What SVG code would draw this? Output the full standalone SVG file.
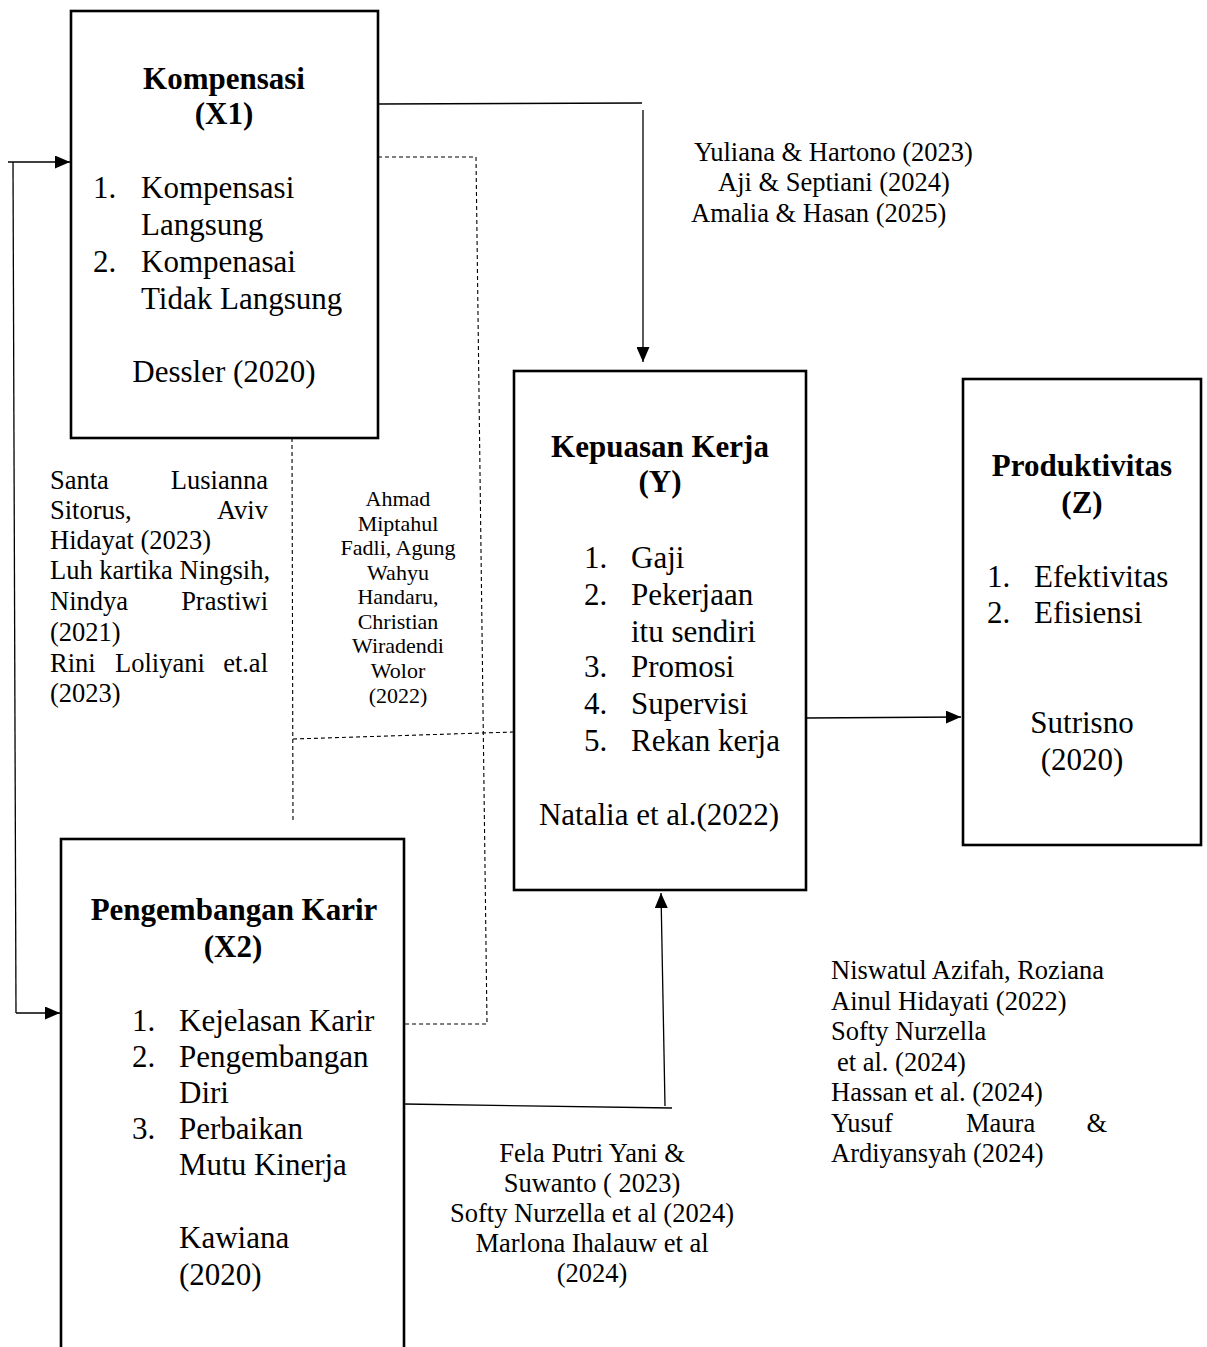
<svg xmlns="http://www.w3.org/2000/svg" width="1207" height="1347" viewBox="0 0 1207 1347">
<style>
  text { font-family: "Liberation Serif", "Times New Roman", serif; fill: #000; }
  .t { font-weight: bold; font-size: 31px; text-anchor: middle; }
  .l { font-size: 31px; }
  .lc { font-size: 31px; text-anchor: middle; }
  .c12 { font-size: 26.5px; }
  .c12m { font-size: 26.5px; text-anchor: middle; }
  .c12e { font-size: 26.5px; text-anchor: end; }
  .c10 { font-size: 22px; text-anchor: middle; }
  .box { fill: #fff; stroke: #000; stroke-width: 2.6; }
  .ln { fill: none; stroke: #000; stroke-width: 1.3; }
  .dash { fill: none; stroke: #000; stroke-width: 1.1; stroke-dasharray: 4 3; }
</style>
<defs>
  <marker id="arr" markerUnits="userSpaceOnUse" markerWidth="15" markerHeight="13" refX="15" refY="6.5" orient="auto">
    <path d="M0,0 L15,6.5 L0,13 Z" fill="#000"/>
  </marker>
</defs>
<rect width="1207" height="1347" fill="#fff"/>

<g id="connectors">
  <path class="ln" d="M8,162 H70" marker-end="url(#arr)"/>
  <path class="ln" d="M13,162 L16,1013"/>
  <path class="ln" d="M16,1013 H60" marker-end="url(#arr)"/>
  <path class="ln" d="M378,104 L642,103"/>
  <path class="ln" d="M643,110 V362" marker-end="url(#arr)"/>
  <path class="ln" d="M806,718 L961,717" marker-end="url(#arr)"/>
  <path class="ln" d="M404,1104 L672,1108"/>
  <path class="ln" d="M665,1106 L661,893" marker-end="url(#arr)"/>
  <path class="dash" d="M378,157 H476 L487,1024 H393"/>
  <path class="dash" d="M292,438 L293,823"/>
  <path class="dash" d="M293,739 L514,732"/>
</g>

<g id="node-x1">
  <rect class="box" x="71" y="11" width="307" height="427"/>
  <text class="t" x="224" y="89">Kompensasi</text>
  <text class="t" x="224" y="124">(X1)</text>
  <text class="l" x="93" y="198">1.</text>
  <text class="l" x="141" y="198">Kompensasi</text>
  <text class="l" x="141" y="235">Langsung</text>
  <text class="l" x="93" y="272">2.</text>
  <text class="l" x="141" y="272">Kompenasai</text>
  <text class="l" x="141" y="309">Tidak Langsung</text>
  <text class="lc" x="224" y="382">Dessler (2020)</text>
</g>

<g id="node-x2">
  <rect class="box" x="61" y="839" width="343" height="540"/>
  <text class="t" x="234" y="920">Pengembangan Karir</text>
  <text class="t" x="233" y="957">(X2)</text>
  <text class="l" x="132" y="1031">1.</text>
  <text class="l" x="179" y="1031">Kejelasan Karir</text>
  <text class="l" x="132" y="1067">2.</text>
  <text class="l" x="179" y="1067">Pengembangan</text>
  <text class="l" x="179" y="1103">Diri</text>
  <text class="l" x="132" y="1139">3.</text>
  <text class="l" x="179" y="1139">Perbaikan</text>
  <text class="l" x="179" y="1175">Mutu Kinerja</text>
  <text class="l" x="179" y="1248">Kawiana</text>
  <text class="l" x="179" y="1285">(2020)</text>
</g>

<g id="node-y">
  <rect class="box" x="514" y="371" width="292" height="519"/>
  <text class="t" x="660" y="457">Kepuasan Kerja</text>
  <text class="t" x="660" y="492">(Y)</text>
  <text class="l" x="584" y="568">1.</text>
  <text class="l" x="631" y="568">Gaji</text>
  <text class="l" x="584" y="605">2.</text>
  <text class="l" x="631" y="605">Pekerjaan</text>
  <text class="l" x="631" y="642">itu sendiri</text>
  <text class="l" x="584" y="677">3.</text>
  <text class="l" x="631" y="677">Promosi</text>
  <text class="l" x="584" y="714">4.</text>
  <text class="l" x="631" y="714">Supervisi</text>
  <text class="l" x="584" y="751">5.</text>
  <text class="l" x="631" y="751">Rekan kerja</text>
  <text class="lc" x="659" y="825">Natalia et al.(2022)</text>
</g>

<g id="node-z">
  <rect class="box" x="963" y="379" width="238" height="466"/>
  <text class="t" x="1082" y="476">Produktivitas</text>
  <text class="t" x="1082" y="513">(Z)</text>
  <text class="l" x="987" y="587">1.</text>
  <text class="l" x="1034" y="587">Efektivitas</text>
  <text class="l" x="987" y="623">2.</text>
  <text class="l" x="1034" y="623">Efisiensi</text>
  <text class="lc" x="1082" y="733">Sutrisno</text>
  <text class="lc" x="1082" y="770">(2020)</text>
</g>

<g id="cite-top">
  <text class="c12" x="694" y="161">Yuliana &amp; Hartono (2023)</text>
  <text class="c12" x="718" y="191">Aji &amp; Septiani (2024)</text>
  <text class="c12" x="691" y="222">Amalia &amp; Hasan (2025)</text>
</g>

<g id="cite-left">
  <text class="c12" x="50" y="489">Santa</text>
  <text class="c12e" x="268" y="489">Lusianna</text>
  <text class="c12" x="50" y="519">Sitorus,</text>
  <text class="c12e" x="268" y="519">Aviv</text>
  <text class="c12" x="50" y="549">Hidayat (2023)</text>
  <text class="c12" x="50" y="579">Luh kartika Ningsih,</text>
  <text class="c12" x="50" y="610">Nindya</text>
  <text class="c12e" x="268" y="610">Prastiwi</text>
  <text class="c12" x="50" y="641">(2021)</text>
  <text class="c12" x="50" y="672">Rini</text>
  <text class="c12" x="115" y="672">Loliyani</text>
  <text class="c12e" x="268" y="672">et.al</text>
  <text class="c12" x="50" y="702">(2023)</text>
</g>

<g id="cite-mid">
  <text class="c10" x="398" y="506">Ahmad</text>
  <text class="c10" x="398" y="531">Miptahul</text>
  <text class="c10" x="398" y="555">Fadli, Agung</text>
  <text class="c10" x="398" y="580">Wahyu</text>
  <text class="c10" x="398" y="604">Handaru,</text>
  <text class="c10" x="398" y="629">Christian</text>
  <text class="c10" x="398" y="653">Wiradendi</text>
  <text class="c10" x="398" y="678">Wolor</text>
  <text class="c10" x="398" y="703">(2022)</text>
</g>

<g id="cite-bottom">
  <text class="c12m" x="592" y="1162">Fela Putri Yani &amp;</text>
  <text class="c12m" x="592" y="1192">Suwanto ( 2023)</text>
  <text class="c12m" x="592" y="1222">Softy Nurzella et al (2024)</text>
  <text class="c12m" x="592" y="1252">Marlona Ihalauw et al</text>
  <text class="c12m" x="592" y="1282">(2024)</text>
</g>

<g id="cite-right">
  <text class="c12" x="831" y="979">Niswatul Azifah, Roziana</text>
  <text class="c12" x="831" y="1010">Ainul Hidayati (2022)</text>
  <text class="c12" x="831" y="1040">Softy Nurzella</text>
  <text class="c12" x="837" y="1071">et al. (2024)</text>
  <text class="c12" x="831" y="1101">Hassan et al. (2024)</text>
  <text class="c12" x="831" y="1132">Yusuf</text>
  <text class="c12" x="966" y="1132">Maura</text>
  <text class="c12e" x="1107" y="1132">&amp;</text>
  <text class="c12" x="831" y="1162">Ardiyansyah (2024)</text>
</g>
</svg>
